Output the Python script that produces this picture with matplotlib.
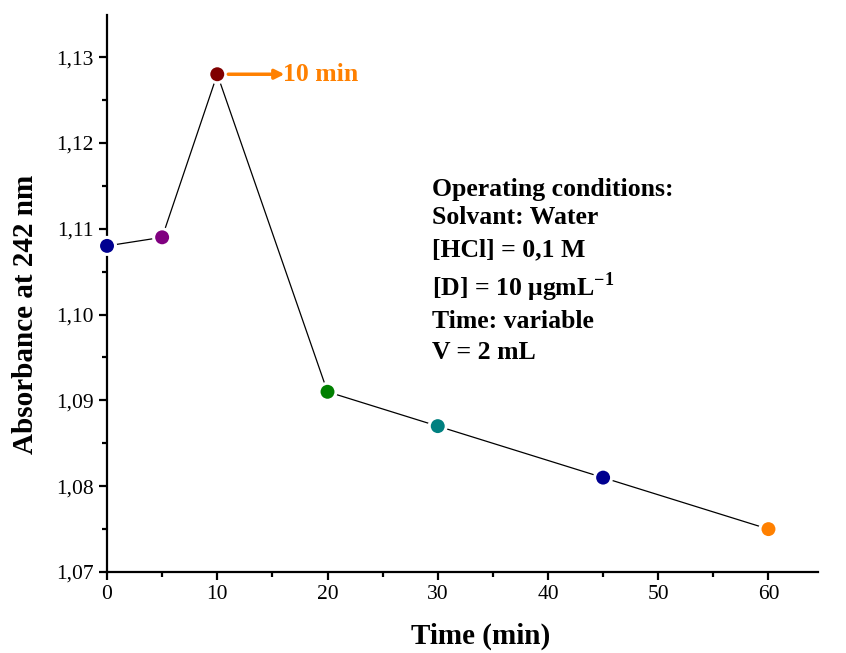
import matplotlib
matplotlib.use("Agg")
import matplotlib.pyplot as plt
from matplotlib.ticker import MultipleLocator, FuncFormatter

plt.rcParams['font.family'] = ['Liberation Serif', 'DejaVu Serif']
plt.rcParams['mathtext.fontset'] = 'custom'
plt.rcParams['mathtext.rm'] = 'Liberation Serif:bold'
plt.rcParams['mathtext.bf'] = 'Liberation Serif:bold'

# data
time_min = [0, 5, 10, 20, 30, 45, 60]
absorbance = [1.108, 1.109, 1.128, 1.091, 1.087, 1.081, 1.075]
point_colors = ['#000090', '#800080', '#800000', '#008000', '#008080', '#000090', '#FF8000']
conditions = ["Operating conditions:", "Solvant: Water", "[HCl] = 0,1 M",
              "[D] = 10 \u03bcgmL$^{-1}$", "Time: variable", "V = 2 mL"]

fig = plt.figure(figsize=(8.46, 6.53), dpi=100)
ax = fig.add_axes([0.1265, 0.124, 0.8405, 0.853])

ax.plot(time_min, absorbance, color='black', lw=0.9, zorder=1)
ax.scatter(time_min, absorbance, s=150, c=point_colors, edgecolors='white',
           linewidths=2.2, zorder=3, clip_on=False)

ax.set_xlim(0, 64.5)
ax.set_ylim(1.07, 1.1349)

ax.xaxis.set_major_locator(MultipleLocator(10))
ax.xaxis.set_minor_locator(MultipleLocator(5))
ax.yaxis.set_major_locator(MultipleLocator(0.01))
ax.yaxis.set_minor_locator(MultipleLocator(0.005))
ax.yaxis.set_major_formatter(FuncFormatter(lambda v, p: f"{v:.2f}".replace('.', ',')))

for s in ['top', 'right']:
    ax.spines[s].set_visible(False)
for s in ['left', 'bottom']:
    ax.spines[s].set_linewidth(1.6)
ax.tick_params(which='major', direction='out', length=6, width=1.6, labelsize=15.5)
ax.tick_params(which='minor', direction='out', length=3.5, width=1.6)

ax.set_xlabel("Time (min)", fontsize=21, fontweight='bold', labelpad=13)
ax.set_ylabel("Absorbance at 242 nm", fontsize=21, fontweight='bold', labelpad=12)
ax.xaxis.label.set_x(0.525)
ax.yaxis.label.set_y(0.463)

# arrow to the 10 min point
ax.annotate("", xy=(16.1, absorbance[2]), xytext=(11.0, absorbance[2]),
            arrowprops=dict(arrowstyle='-|>', color='#FF8000', lw=2.5,
                            mutation_scale=14, shrinkA=0, shrinkB=0))
ax.text(16.0, absorbance[2], "10 min", color='#FF8000', fontsize=18.5,
        fontweight='bold', va='center', ha='left')

ys = [0.686, 0.636, 0.578, 0.512, 0.449, 0.395]
for line, y in zip(conditions, ys):
    ax.text(0.457, y, line, transform=ax.transAxes, fontsize=18.5,
            fontweight='bold', va='center', ha='left')

fig.savefig("out.png", dpi=100)
